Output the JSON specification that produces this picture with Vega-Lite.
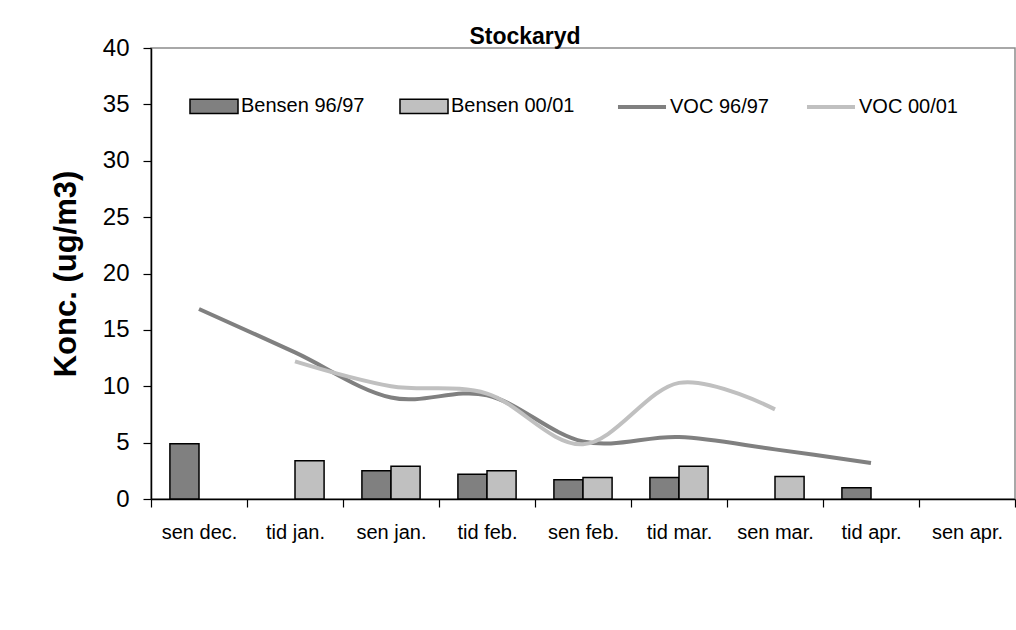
{
  "$schema": "https://vega.github.io/schema/vega-lite/v6.json",
  "width": 864,
  "height": 451,
  "autosize": {"type": "none"},
  "padding": {"left": 151, "top": 48, "right": 1, "bottom": 131},
  "background": "white",
  "title": {"text": "Stockaryd", "font": "Liberation Sans", "fontSize": 23, "fontWeight": "bold", "color": "black", "anchor": "middle", "dx": -58, "offset": -13},
  "config": {
    "view": {"stroke": "#8c8c8c", "strokeWidth": 1.5},
    "axis": {"grid": false, "domainColor": "black", "tickColor": "black", "labelColor": "black", "titleColor": "black", "labelFont": "Liberation Sans", "titleFont": "Liberation Sans"},
    "legend": {"symbolSize": 3364, "labelFontSize": 20, "labelFont": "Liberation Sans", "labelColor": "black", "labelOffset": -3, "padding": 18, "columnPadding": 29, "direction": "horizontal", "columns": 2, "orient": "none", "title": null}
  },
  "data": {"values": [
    {"period": "sen dec.", "series": "Bensen 96/97", "kind": "bar", "value": 4.9},
    {"period": "sen jan.", "series": "Bensen 96/97", "kind": "bar", "value": 2.5},
    {"period": "tid feb.", "series": "Bensen 96/97", "kind": "bar", "value": 2.2},
    {"period": "sen feb.", "series": "Bensen 96/97", "kind": "bar", "value": 1.7},
    {"period": "tid mar.", "series": "Bensen 96/97", "kind": "bar", "value": 1.9},
    {"period": "tid apr.", "series": "Bensen 96/97", "kind": "bar", "value": 1.0},
    {"period": "tid jan.", "series": "Bensen 00/01", "kind": "bar", "value": 3.4},
    {"period": "sen jan.", "series": "Bensen 00/01", "kind": "bar", "value": 2.9},
    {"period": "tid feb.", "series": "Bensen 00/01", "kind": "bar", "value": 2.5},
    {"period": "sen feb.", "series": "Bensen 00/01", "kind": "bar", "value": 1.9},
    {"period": "tid mar.", "series": "Bensen 00/01", "kind": "bar", "value": 2.9},
    {"period": "sen mar.", "series": "Bensen 00/01", "kind": "bar", "value": 2.0},
    {"period": "sen dec.", "series": "VOC 96/97", "kind": "line", "value": 16.85},
    {"period": "tid jan.", "series": "VOC 96/97", "kind": "line", "value": 13.0},
    {"period": "sen jan.", "series": "VOC 96/97", "kind": "line", "value": 9.0},
    {"period": "tid feb.", "series": "VOC 96/97", "kind": "line", "value": 9.2},
    {"period": "sen feb.", "series": "VOC 96/97", "kind": "line", "value": 5.1},
    {"period": "tid mar.", "series": "VOC 96/97", "kind": "line", "value": 5.5},
    {"period": "sen mar.", "series": "VOC 96/97", "kind": "line", "value": 4.4},
    {"period": "tid apr.", "series": "VOC 96/97", "kind": "line", "value": 3.2},
    {"period": "tid jan.", "series": "VOC 00/01", "kind": "line", "value": 12.2},
    {"period": "sen jan.", "series": "VOC 00/01", "kind": "line", "value": 10.0},
    {"period": "tid feb.", "series": "VOC 00/01", "kind": "line", "value": 9.35},
    {"period": "sen feb.", "series": "VOC 00/01", "kind": "line", "value": 4.85},
    {"period": "tid mar.", "series": "VOC 00/01", "kind": "line", "value": 10.3},
    {"period": "sen mar.", "series": "VOC 00/01", "kind": "line", "value": 7.95}
  ]},
  "layer": [
    {"transform": [{"filter": "datum.kind === 'bar'"}],
     "mark": {"type": "bar", "stroke": "black", "strokeWidth": 1.5},
     "encoding": {
       "x": {"field": "period", "type": "nominal", "sort": null,
         "scale": {"domain": ["sen dec.", "tid jan.", "sen jan.", "tid feb.", "sen feb.", "tid mar.", "sen mar.", "tid apr.", "sen apr."], "paddingInner": 0, "paddingOuter": 0},
         "axis": {"title": null, "labelAngle": 0, "labelFontSize": 20, "labelPadding": 15, "tickBand": "extent", "tickSize": 8, "domainWidth": 1.5, "tickWidth": 1.2}},
       "xOffset": {"field": "series", "type": "nominal", "scale": {"domain": ["Bensen 96/97", "Bensen 00/01"], "paddingInner": 0, "paddingOuter": 0.65}},
       "y": {"field": "value", "type": "quantitative",
         "scale": {"domain": [0, 40], "nice": false},
         "axis": {"title": "Konc. (ug/m3)", "titleFontSize": 31, "titleFontWeight": "bold", "titlePadding": 20, "values": [0, 5, 10, 15, 20, 25, 30, 35, 40], "labelFontSize": 24, "labelPadding": 14, "tickSize": 8, "domainWidth": 1.5, "tickWidth": 1.2}},
       "fill": {"field": "series", "type": "nominal",
         "scale": {"domain": ["Bensen 96/97", "Bensen 00/01"], "range": ["#808080", "#c0c0c0"]},
         "legend": {"legendX": 15, "legendY": 10, "symbolType": "M-0.828,-0.248H0.828V0.248H-0.828Z", "symbolStrokeColor": "black", "symbolStrokeWidth": 1.5, "symbolOpacity": 1}}
     }},
    {"transform": [{"filter": "datum.series === 'VOC 96/97'"}],
     "mark": {"type": "line", "interpolate": "cardinal", "strokeWidth": 4},
     "encoding": {
       "x": {"field": "period", "type": "nominal", "sort": null},
       "y": {"field": "value", "type": "quantitative"},
       "stroke": {"field": "series", "type": "nominal",
         "scale": {"domain": ["VOC 96/97", "VOC 00/01"], "range": ["#808080", "#c0c0c0"]},
         "legend": {"legendX": 442, "legendY": 10, "symbolType": "M-0.828,0H0.828", "symbolStrokeWidth": 4, "symbolOpacity": 1}}
     }},
    {"transform": [{"filter": "datum.series === 'VOC 00/01'"}],
     "mark": {"type": "line", "interpolate": "cardinal", "strokeWidth": 4},
     "encoding": {
       "x": {"field": "period", "type": "nominal", "sort": null},
       "y": {"field": "value", "type": "quantitative"},
       "stroke": {"field": "series", "type": "nominal",
         "legend": {"legendX": 442, "legendY": 10, "symbolType": "M-0.828,0H0.828", "symbolStrokeWidth": 4, "symbolOpacity": 1}}
     }}
  ]
}
